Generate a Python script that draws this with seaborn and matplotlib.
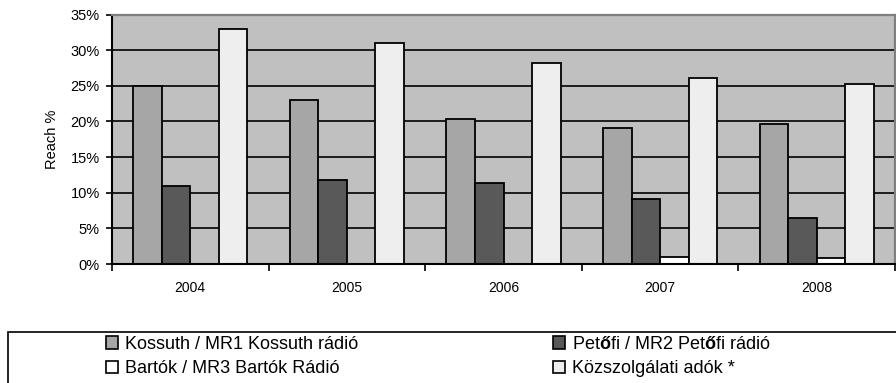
import matplotlib
matplotlib.use("Agg")
import matplotlib.pyplot as plt
from matplotlib.patches import Rectangle
from matplotlib.ticker import FuncFormatter, FixedLocator
import seaborn as sns
import pandas as pd

# Annual reach of the public radio channels (%)
years = ["2004", "2005", "2006", "2007", "2008"]
stations = [
    "Kossuth / MR1 Kossuth rádió",
    "Petőfi / MR2 Petőfi rádió",
    "Bartók / MR3 Bartók Rádió",
    "Közszolgálati adók *",
]
kossuth = [25.0, 23.0, 20.4, 19.1, 19.6]
petofi = [11.0, 11.8, 11.3, 9.1, 6.4]
bartok = [0.0, 0.0, 0.0, 1.0, 0.9]
kozszolgalati = [33.0, 31.0, 28.2, 26.1, 25.2]
colors = ["#a6a6a6", "#595959", "#ffffff", "#eeeeee"]

rows = []
for name, vals in zip(stations, [kossuth, petofi, bartok, kozszolgalati]):
    for y, v in zip(years, vals):
        rows.append({"year": y, "station": name, "reach": v})
df = pd.DataFrame(rows)

sns.set_theme(style="white")
plt.rcParams["font.family"] = ["Liberation Sans", "DejaVu Sans"]
plt.rcParams["mathtext.fontset"] = "custom"
plt.rcParams["mathtext.rm"] = "Liberation Sans"
plt.rcParams["mathtext.bf"] = "Liberation Sans:bold"

W, H = 896, 383
fig = plt.figure(figsize=(W / 100, H / 100), dpi=100)
fig.patch.set_facecolor("white")
ax = fig.add_axes([112 / W, 1 - 264 / H, 783 / W, (264 - 14.5) / H])
ax.set_facecolor("#c0c0c0")

sns.barplot(
    data=df, x="year", y="reach", hue="station", hue_order=stations,
    palette=dict(zip(stations, colors)), saturation=1, width=0.73, gap=0,
    edgecolor="black", linewidth=1.3, legend=False, ax=ax, errorbar=None,
)

ax.set_xlim(-0.5, len(years) - 0.5)
ax.set_ylim(0, 35)
ax.set_yticks(range(0, 36, 5))
ax.yaxis.set_major_formatter(FuncFormatter(lambda v, p: f"{int(v)}%"))
ax.yaxis.grid(True, color="black", linewidth=1.2)
ax.xaxis.grid(False)
ax.set_axisbelow(True)

# Category separators as tick marks, year labels between them
ax.xaxis.set_minor_locator(FixedLocator([i - 0.5 for i in range(len(years) + 1)]))
ax.tick_params(axis="x", which="major", length=0, pad=12, labelsize=10, colors="black")
ax.tick_params(axis="x", which="minor", length=5, width=1.2, color="black", bottom=True)
ax.tick_params(axis="y", which="major", length=4.3, width=1.2, color="black",
               pad=4.5, labelsize=10.5, left=True, labelcolor="black")

ax.set_xlabel("")
ax.set_ylabel("Reach %", fontsize=10.5, color="black")
ax.yaxis.set_label_coords(-0.068, 0.5)

for side in ["left", "bottom"]:
    ax.spines[side].set_color("black")
    ax.spines[side].set_linewidth(1.5)
for side in ["top", "right"]:
    ax.spines[side].set_visible(True)
    ax.spines[side].set_color("#7f7f7f")
    ax.spines[side].set_linewidth(1.6)

# Legend frame (open to the right and bottom)
fig.add_artist(Rectangle((8 / W, -0.2), 1.0, 0.2 + 1 - 332 / H,
                         transform=fig.transFigure, facecolor="none",
                         edgecolor="black", linewidth=1.2))

labels = [
    "Kossuth / MR1 Kossuth rádió",
    "Bartók / MR3 Bartók Rádió",
    r"Pet$\mathbf{ő}$fi / MR2 Pet$\mathbf{ő}$fi rádió",
    "Közszolgálati adók *",
]
handle_colors = [colors[0], colors[2], colors[1], colors[3]]
handles = [Rectangle((0, 0), 1, 1, facecolor=c, edgecolor="black", linewidth=1.2)
           for c in handle_colors]

for col, x0 in enumerate([106, 553]):
    leg = fig.legend(
        handles[2 * col:2 * col + 2], labels[2 * col:2 * col + 2],
        loc="upper left", bbox_to_anchor=(x0 / W, 1 - 336 / H),
        frameon=False, fontsize=13, borderpad=0, borderaxespad=0,
        handlelength=0.68, handleheight=0.68, handletextpad=0.35,
        labelspacing=0.4,
    )
    for t in leg.get_texts():
        t.set_color("black")

fig.savefig("out.png", dpi=100)
